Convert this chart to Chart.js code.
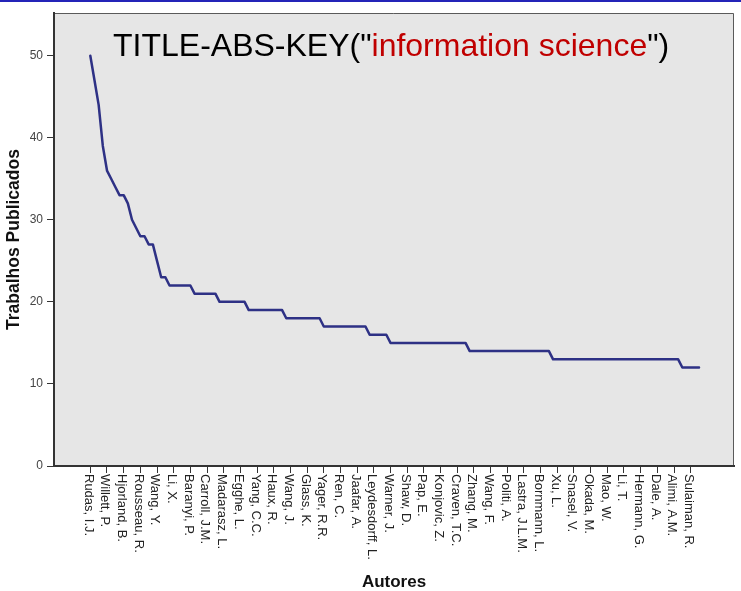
<!DOCTYPE html>
<html>
<head>
<meta charset="utf-8">
<script src="https://cdn.jsdelivr.net/npm/chart.js@4/dist/chart.umd.min.js"></script>
<style>
  html, body { margin: 0; padding: 0; background: #ffffff; }
  #wrap { position: relative; width: 741px; height: 591px; overflow: hidden; }
  #topline { position: absolute; left: 0; top: 0; width: 741px; height: 2px; background: #2424b8; }
  #cv { position: absolute; left: 0; top: 0; }
  #ttl { position: absolute; left: 113px; top: 27px; font-family: "Liberation Sans", Arial, sans-serif;
         font-size: 32px; line-height: 36px; color: #000; white-space: nowrap; }
  #ttl span { color: #c00000; }
</style>
</head>
<body>
<div id="wrap">
  <canvas id="cv" width="741" height="591"></canvas>
  <div id="topline"></div>
  <div id="ttl">TITLE-ABS-KEY("<span>information science</span>")</div>
</div>
<script>
// Authors shown on the category axis (every 4th author of the ranking)
const authors = ["Rudas, I.J.","Willett, P.","Hjorland, B.","Rousseau, R.","Wang, Y.","Li, X.","Baranyi, P.",
  "Carroll, J.M.","Madarasz, L.","Egghe, L.","Yang, C.C.","Haux, R.","Wang, J.","Glass, K.","Yager, R.R.",
  "Ren, C.","Jaafar, A.","Leydesdorff, L.","Warner, J.","Shaw, D.","Pap, E.","Konjovic, Z.","Craven, T.C.",
  "Zhang, M.","Wang, F.","Politi, A.","Lastra, J.L.M.","Bornmann, L.","Xu, L.","Snasel, V.","Okada, M.",
  "Mao, W.","Li, T.","Hermann, G.","Dale, A.","Alimi, A.M.","Sulaiman, R."];
const labelEvery = 4;

// Published works per author (ranked)
const publications = [
  50,47,44,39,36,35,34,33,33,32,30,29,28,28,27,27,25,23,23,
  22,22,22,22,22,22,
  21,21,21,21,21,21,
  20,20,20,20,20,20,20,
  19,19,19,19,19,19,19,19,19,
  18,18,18,18,18,18,18,18,18,
  17,17,17,17,17,17,17,17,17,17,17,
  16,16,16,16,16,
  15,15,15,15,15,15,15,15,15,15,15,15,15,15,15,15,15,15,15,
  14,14,14,14,14,14,14,14,14,14,14,14,14,14,14,14,14,14,14,14,
  13,13,13,13,13,13,13,13,13,13,13,13,13,13,13,13,13,13,13,13,13,13,13,13,13,13,13,13,13,13,13,
  12,12,12,12,12
];
const yTicks = [0,10,20,30,40,50];

const FONT = "'Liberation Sans', Arial, sans-serif";

const bgPlugin = {
  id: 'bg',
  beforeDraw(chart) {
    const {ctx, chartArea: a} = chart;
    ctx.save();
    ctx.fillStyle = '#e6e6e6';
    ctx.fillRect(a.left, a.top, a.right - a.left, a.bottom - a.top);
    ctx.strokeStyle = '#5a5a5a';
    ctx.lineWidth = 1;
    ctx.beginPath();
    ctx.moveTo(a.left, a.top + 0.5);
    ctx.lineTo(a.right - 0.5, a.top + 0.5);
    ctx.lineTo(a.right - 0.5, a.bottom);
    ctx.stroke();
    ctx.restore();
  }
};

const xLabelPlugin = {
  id: 'xlabels',
  afterDraw(chart) {
    const {ctx} = chart;
    const xs = chart.scales.x;
    ctx.save();
    ctx.font = '13px ' + FONT;
    ctx.fillStyle = '#222';
    ctx.textAlign = 'left';
    ctx.textBaseline = 'middle';
    xs.ticks.forEach((t, k) => {
      const px = xs.getPixelForValue(t.value);
      ctx.save();
      ctx.translate(px - 2, xs.top + 8);
      ctx.rotate(Math.PI / 2);
      ctx.fillText(authors[k], 0, 0);
      ctx.restore();
    });
    ctx.restore();
  }
};

new Chart(document.getElementById('cv'), {
  type: 'line',
  data: {
    datasets: [{
      data: publications.map((v, i) => ({x: i, y: v})),
      borderColor: '#2e3185',
      borderWidth: 2.5,
      borderJoinStyle: 'round',
      borderCapStyle: 'round',
      pointRadius: 0,
      tension: 0,
      fill: false
    }]
  },
  options: {
    responsive: false,
    animation: false,
    devicePixelRatio: 1,
    layout: { padding: { top: 13, right: 7, left: 0, bottom: 0 } },
    plugins: { legend: { display: false }, tooltip: { enabled: false } },
    scales: {
      x: {
        type: 'linear',
        min: -8.71,
        max: 154.39,
        afterBuildTicks: s => { s.ticks = authors.map((_, k) => ({ value: k * labelEvery })); },
        afterFit: s => { s.height = 125; },
        ticks: { display: false },
        grid: { drawOnChartArea: false, drawTicks: true, tickLength: 7, color: '#333', lineWidth: 1 },
        border: { color: '#333', width: 2 },
        title: { display: true, text: 'Autores', color: '#111',
                 font: { family: FONT, size: 17, weight: 'bold', lineHeight: 1 }, padding: { top: 0, bottom: 0 } }
      },
      y: {
        min: 0,
        max: 55.2,
        afterBuildTicks: s => { s.ticks = yTicks.map(v => ({ value: v })); },
        afterFit: s => { s.width = 54; },
        ticks: { color: '#444', font: { family: FONT, size: 12 }, padding: 4 },
        grid: { drawOnChartArea: false, drawTicks: true, tickLength: 7, color: '#333', lineWidth: 1 },
        border: { color: '#333', width: 2 },
        title: { display: true, text: 'Trabalhos Publicados', color: '#111',
                 font: { family: FONT, size: 17.5, weight: 'bold', lineHeight: 1.2 }, padding: { top: 4, bottom: 0 } }
      }
    }
  },
  plugins: [bgPlugin, xLabelPlugin]
});
</script>
</body>
</html>
